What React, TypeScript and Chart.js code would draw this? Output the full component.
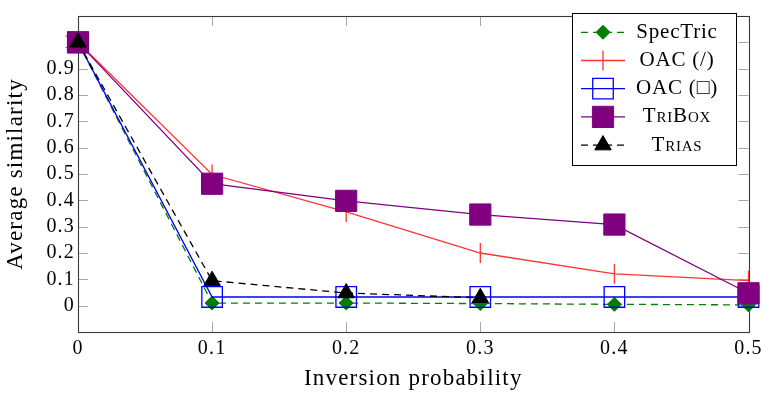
import React, { useEffect, useRef } from 'react';
import { Chart, registerables } from 'chart.js';
import * as helpers from 'chart.js/helpers';

Chart.register(...registerables);

const xValues = [0, 0.1, 0.2, 0.3, 0.4, 0.5];
const specTric = [1, 0.01, 0.01, 0.008, 0.005, 0.003];
const oacSlash = [1, 0.498, 0.356, 0.2, 0.121, 0.095];
const oacBox = [1, 0.033, 0.033, 0.033, 0.033, 0.033];
const triBox = [1, 0.463, 0.398, 0.346, 0.308, 0.047];
const trias = [1, 0.095, 0.048, 0.03];

const xTickValues = [0, 0.1, 0.2, 0.3, 0.4, 0.5];
const yTickValues = [0, 0.1, 0.2, 0.3, 0.4, 0.5, 0.6, 0.7, 0.8, 0.9, 1];
const seriesLabels = ['SpecTric', 'OAC (/)', 'OAC (\u25A1)', 'TriBox', 'Trias'];
const smallCapsLabels = [false, false, false, true, true];
const xTitle = 'Inversion probability';
const yTitle = 'Average similarity';

const FONT = "'Liberation Serif', 'DejaVu Serif', serif";

const pts = (ys: number[]) => ys.map((y, i) => ({ x: xValues[i], y }));

const fmt = (v: number) => (v === 0 ? '0' : v === 1 ? '1' : v.toFixed(1));

const spacingPlugin = {
  id: 'spacing',
  beforeDraw(chart: any) {
    chart.ctx.letterSpacing = '1.2px';
  },
};

const framePlugin = {
  id: 'frame',
  beforeDatasetsDraw(chart: any) {
    const { ctx, chartArea: a, scales } = chart;
    const L = 10;
    ctx.save();
    ctx.strokeStyle = '#a8a8a8';
    ctx.lineWidth = 1;
    ctx.beginPath();
    for (const v of xTickValues) {
      const px = Math.round(scales.x.getPixelForValue(v)) + 0.5;
      ctx.moveTo(px, a.bottom);
      ctx.lineTo(px, a.bottom - L);
      ctx.moveTo(px, a.top);
      ctx.lineTo(px, a.top + L);
    }
    for (const v of yTickValues) {
      const py = Math.round(scales.y.getPixelForValue(v)) + 0.5;
      ctx.moveTo(a.left, py);
      ctx.lineTo(a.left + L, py);
      ctx.moveTo(a.right, py);
      ctx.lineTo(a.right - L, py);
    }
    ctx.stroke();
    ctx.strokeStyle = '#3a3a3a';
    ctx.lineWidth = 1.1;
    ctx.strokeRect(Math.round(a.left) + 0.5, Math.round(a.top) + 0.5, Math.round(a.right - a.left), Math.round(a.bottom - a.top));
    ctx.restore();
  },
};

const legendPlugin = {
  id: 'customLegend',
  afterDraw(chart: any) {
    const { ctx } = chart;
    const box = { x: 572.5, y: 13.5, w: 164, h: 152 };
    ctx.save();
    ctx.fillStyle = '#ffffff';
    ctx.fillRect(box.x, box.y, box.w, box.h);
    ctx.strokeStyle = '#000000';
    ctx.lineWidth = 1;
    ctx.strokeRect(box.x, box.y, box.w, box.h);
    const rowY0 = 32.3;
    const rowDy = 28.2;
    chart.data.datasets.forEach((ds: any, i: number) => {
      const y = rowY0 + i * rowDy;
      ctx.save();
      ctx.strokeStyle = ds.borderColor;
      ctx.lineWidth = ds.borderWidth;
      ctx.setLineDash(ds.borderDash || []);
      ctx.beginPath();
      ctx.moveTo(581, y);
      ctx.lineTo(625, y);
      ctx.stroke();
      ctx.setLineDash([]);
      ctx.fillStyle = ds.pointBackgroundColor;
      ctx.strokeStyle = ds.pointBorderColor;
      ctx.lineWidth = ds.pointBorderWidth;
      helpers.drawPoint(ctx, {
        pointStyle: ds.pointStyle,
        rotation: ds.pointRotation || 0,
        radius: ds.pointRadius,
        borderWidth: ds.pointBorderWidth,
      } as any, 603, y);
      ctx.restore();
      ctx.fillStyle = '#000';
      ctx.letterSpacing = '0.8px';
      ctx.font = (smallCapsLabels[i] ? 'small-caps ' : '') + '21px ' + FONT;
      ctx.textAlign = 'center';
      ctx.textBaseline = 'middle';
      ctx.fillText(seriesLabels[i], 677, y);
    });
    ctx.restore();
  },
};

export default function App() {
  const ref = useRef<HTMLCanvasElement>(null);
  useEffect(() => {
    if (!ref.current) return;
    const common = { borderWidth: 1.3, fill: false, tension: 0, clip: false as any };
    const chart = new Chart(ref.current, {
      type: 'line',
      data: {
        datasets: [
          {
            ...common,
            label: seriesLabels[0],
            data: pts(specTric),
            borderColor: '#008000',
            borderDash: [7, 5],
            pointStyle: 'rectRot',
            pointRadius: 7,
            pointBackgroundColor: '#008000',
            pointBorderColor: '#008000',
            pointBorderWidth: 1,
            order: 4,
          },
          {
            ...common,
            label: seriesLabels[1],
            data: pts(oacSlash),
            borderColor: '#ff3333',
            pointStyle: 'line',
            pointRotation: 90,
            pointRadius: 10,
            pointBackgroundColor: '#ff3333',
            pointBorderColor: '#ff3333',
            pointBorderWidth: 1.3,
            order: 3,
          },
          {
            ...common,
            label: seriesLabels[2],
            data: pts(oacBox),
            borderColor: '#0000ff',
            pointStyle: 'rect',
            pointRadius: 14.5,
            pointBackgroundColor: 'rgba(0,0,0,0)',
            pointBorderColor: '#0000ff',
            pointBorderWidth: 1.3,
            order: 2,
          },
          {
            ...common,
            label: seriesLabels[3],
            data: pts(triBox),
            borderColor: '#800080',
            pointStyle: 'rect',
            pointRadius: 15,
            pointBackgroundColor: '#800080',
            pointBorderColor: '#800080',
            pointBorderWidth: 1,
            order: 1,
          },
          {
            ...common,
            label: seriesLabels[4],
            data: pts(trias),
            borderColor: '#000000',
            borderDash: [7, 5],
            pointStyle: 'triangle',
            pointRadius: 9.5,
            pointBackgroundColor: '#000000',
            pointBorderColor: '#000000',
            pointBorderWidth: 1,
            order: 0,
          },
        ],
      },
      options: {
        responsive: false,
        animation: false,
        devicePixelRatio: 1,
        layout: { padding: { top: 6, right: 16, left: 0, bottom: 0 } },
        plugins: { legend: { display: false }, tooltip: { enabled: false } },
        elements: { point: { hoverRadius: 0 } },
        scales: {
          x: {
            type: 'linear',
            min: 0,
            max: 0.5,
            afterBuildTicks: (s: any) => {
              s.ticks = xTickValues.map((v) => ({ value: v }));
            },
            afterFit: (s: any) => {
              s.height = 63;
            },
            grid: { display: false, drawTicks: false },
            border: { display: false },
            ticks: {
              autoSkip: false,
              maxRotation: 0,
              padding: 5,
              color: '#000',
              font: { family: FONT, size: 20 },
              callback: (v: any) => fmt(Number(v)),
            },
            title: {
              display: true,
              text: xTitle,
              color: '#000',
              font: { family: FONT, size: 23 },
              padding: { top: 0, bottom: 2 },
            },
          },
          y: {
            type: 'linear',
            min: -0.1,
            max: 1.1,
            afterBuildTicks: (s: any) => {
              s.ticks = yTickValues.map((v) => ({ value: v }));
            },
            afterFit: (s: any) => {
              s.width = 78;
            },
            grid: { display: false, drawTicks: false },
            border: { display: false },
            ticks: {
              autoSkip: false,
              padding: 3,
              color: '#000',
              font: { family: FONT, size: 20 },
              callback: (v: any) => fmt(Number(v)),
            },
            title: {
              display: true,
              text: yTitle,
              color: '#000',
              font: { family: FONT, size: 23 },
              padding: { top: 2, bottom: 0 },
            },
          },
        },
      },
      plugins: [spacingPlugin, framePlugin, legendPlugin],
    } as any);
    return () => chart.destroy();
  }, []);
  return (
    <div style={{ position: 'absolute', left: 0, top: 0, width: 766, height: 395, background: '#fff' }}>
      <canvas ref={ref} width={766} height={395} style={{ width: 766, height: 395, display: 'block' }} />
    </div>
  );
}
